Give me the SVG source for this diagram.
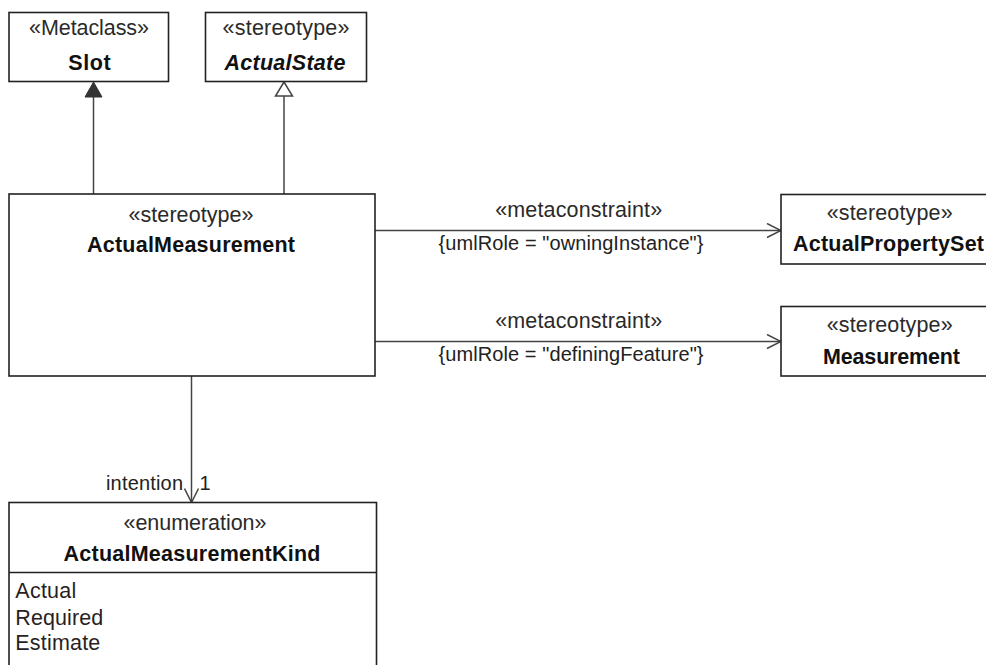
<svg xmlns="http://www.w3.org/2000/svg" width="986" height="665" viewBox="0 0 986 665">
<defs>
<style>
.box{fill:#fff;stroke:#222;stroke-width:1.6}
.edge{fill:none;stroke:#444;stroke-width:1.5}
.st{font-family:"Liberation Sans",Arial,sans-serif;font-size:21.5px;fill:#2a2a2a;text-anchor:middle}
.nm{font-family:"Liberation Sans",Arial,sans-serif;font-size:21.5px;font-weight:bold;fill:#111;text-anchor:middle}
.lit{font-family:"Liberation Sans",Arial,sans-serif;font-size:21.5px;fill:#2a1f1f}
.lbl{font-family:"Liberation Sans",Arial,sans-serif;font-size:20px;fill:#222}
</style>
<marker id="open" viewBox="0 0 16 16" refX="15" refY="8" markerWidth="16" markerHeight="16" markerUnits="userSpaceOnUse" orient="auto">
<path d="M1,1 L15,8 L1,15" fill="none" stroke="#444" stroke-width="1.5"/>
</marker>
</defs>
<rect width="986" height="665" fill="#fff"/>

<g id="connectors">
<line class="edge" x1="93.5" y1="194" x2="93.5" y2="96"/>
<polygon points="93.5,82 85,97 102,97" fill="#333" stroke="#333" stroke-width="1"/>
<line class="edge" x1="284" y1="194" x2="284" y2="96"/>
<polygon points="284,82 275.5,96 292.5,96" fill="#fff" stroke="#444" stroke-width="1.5"/>
<line class="edge" x1="375" y1="230.5" x2="781" y2="230.5" marker-end="url(#open)"/>
<text class="st" x="578.7" y="216.5" textLength="167">«metaconstraint»</text>
<text class="lbl" x="571" y="249.5" text-anchor="middle" textLength="265">{umlRole = "owningInstance"}</text>
<line class="edge" x1="375" y1="341.5" x2="781" y2="341.5" marker-end="url(#open)"/>
<text class="st" x="578.7" y="327.5" textLength="167">«metaconstraint»</text>
<text class="lbl" x="571" y="360.5" text-anchor="middle" textLength="265">{umlRole = "definingFeature"}</text>
<line class="edge" x1="191.5" y1="376" x2="191.5" y2="502.5" marker-end="url(#open)"/>
<text class="lbl" x="106" y="490" textLength="77">intention</text>
<text class="lbl" x="199.5" y="490">1</text>
</g>

<g id="Slot">
<rect class="box" x="9" y="12.5" width="159.5" height="69"/>
<text class="st" x="89" y="35" textLength="120">«Metaclass»</text>
<text class="nm" x="89.5" y="69.5" textLength="42.5">Slot</text>
</g>

<g id="ActualState">
<rect class="box" x="205.5" y="12.5" width="161" height="69"/>
<text class="st" x="286" y="35" textLength="127">«stereotype»</text>
<text class="nm" x="285" y="69.5" font-style="italic" textLength="121">ActualState</text>
</g>

<g id="ActualMeasurement">
<rect class="box" x="9" y="194" width="366" height="182"/>
<text class="st" x="191" y="221.5" textLength="125">«stereotype»</text>
<text class="nm" x="191" y="251.5" textLength="208">ActualMeasurement</text>
</g>

<g id="ActualPropertySet">
<rect class="box" x="781" y="194.5" width="230" height="69.5"/>
<text class="st" x="889.7" y="220" textLength="126">«stereotype»</text>
<text class="nm" x="888.5" y="250.5" textLength="191">ActualPropertySet</text>
</g>

<g id="Measurement">
<rect class="box" x="781" y="306.5" width="230" height="69.5"/>
<text class="st" x="889.7" y="332" textLength="126">«stereotype»</text>
<text class="nm" x="891.5" y="363.5" textLength="137">Measurement</text>
</g>

<g id="ActualMeasurementKind">
<rect class="box" x="9" y="502.5" width="367.5" height="200"/>
<line x1="9" y1="572.5" x2="376.5" y2="572.5" stroke="#222" stroke-width="1.6"/>
<text class="st" x="195" y="530" textLength="143">«enumeration»</text>
<text class="nm" x="192" y="560.5" textLength="257">ActualMeasurementKind</text>
<text class="lit" x="15.3" y="598" textLength="61">Actual</text>
<text class="lit" x="15.3" y="625" textLength="88">Required</text>
<text class="lit" x="15.3" y="650" textLength="85">Estimate</text>
</g>
</svg>
